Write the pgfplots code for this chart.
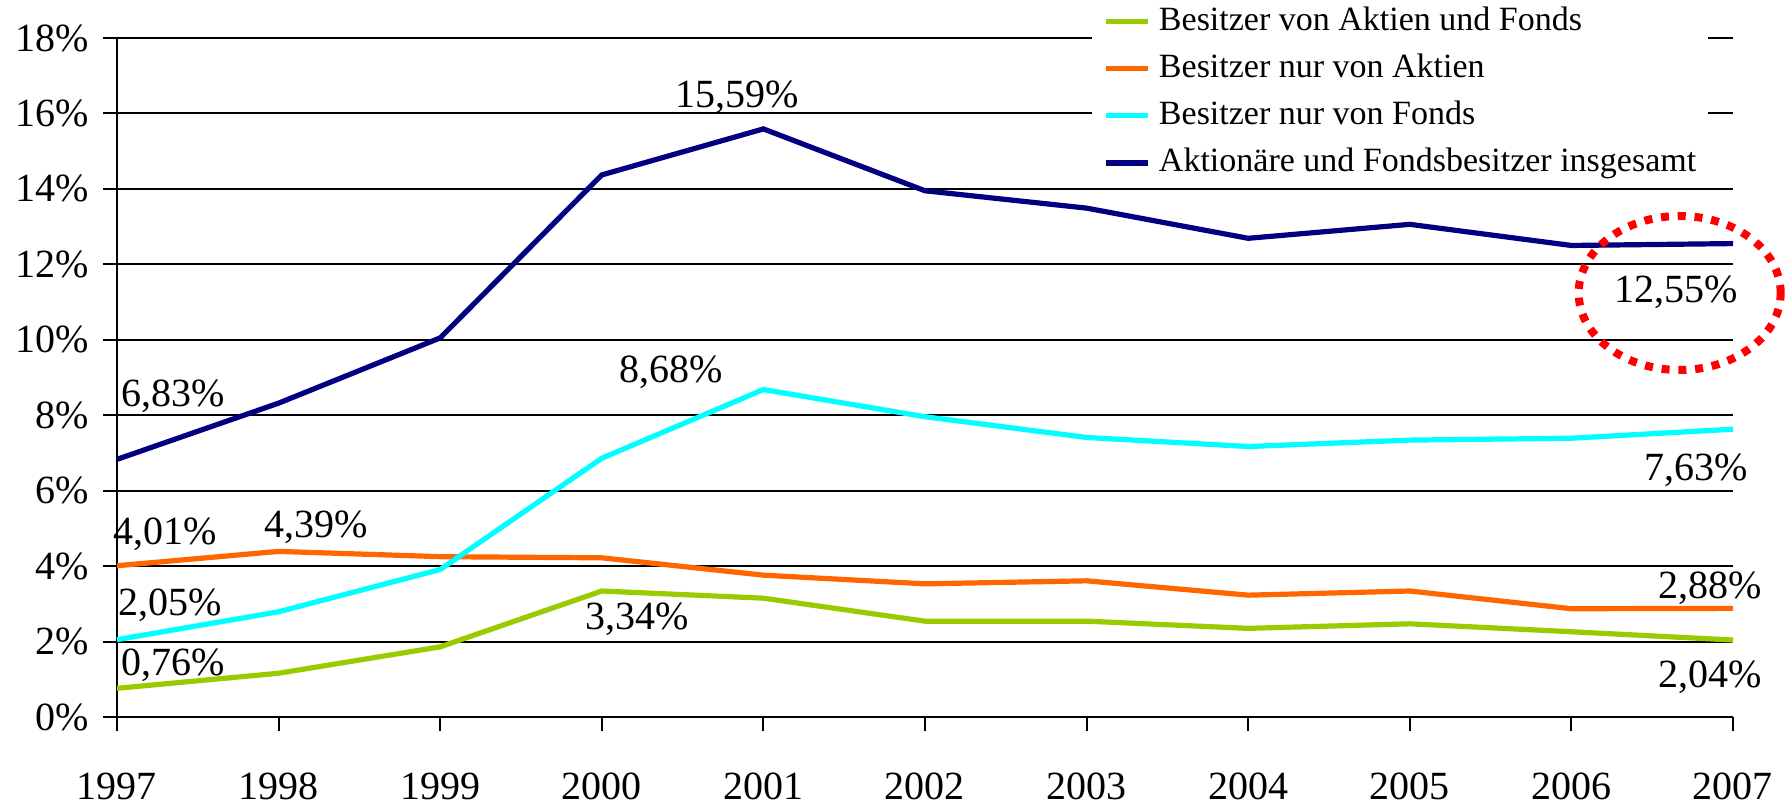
\documentclass[border=0pt]{standalone}
\usepackage{fontspec}
\setmainfont{Liberation Serif}
\usepackage{pgfplots}
\pgfplotsset{compat=1.18}
\definecolor{lgreen}{HTML}{99CC00}
\definecolor{lorange}{HTML}{FF6600}
\definecolor{lcyan}{HTML}{00FFFF}
\definecolor{lnavy}{HTML}{000080}
\definecolor{ringred}{HTML}{FF0000}

\begin{document}
\begin{tikzpicture}
\begin{axis}[
    scale only axis, width=404pt, height=169.75pt,
    xmin=1997, xmax=2007, ymin=0, ymax=18,
    xtick={1997,...,2007}, ytick={0,2,...,18},
    axis x line*=bottom, axis y line*=left,
    axis line style={black, line width=0.5pt, -},
    ymajorgrids, grid style={black, line width=0.5pt},
    tick align=outside, major tick length=3.5pt,
    tick style={black, line width=0.5pt},
    /pgf/number format/assume math mode=true,
    /pgf/number format/1000 sep={},
    tick label style={font=\fontsize{10}{12}\selectfont},
    yticklabel={\pgfmathprintnumber{\tick}\%},
    xticklabel style={inner sep=0pt, yshift=-10.3pt},
    clip=false,
    legend cell align=left,
    legend style={at={(0.6027,1.055)}, anchor=north west, draw=none, fill=white,
        font=\fontsize{8.5}{10}\selectfont, inner xsep=3pt, inner ysep=1pt,
        nodes={inner sep=0pt, text height=6.2pt, text depth=1.8pt},
        row sep=3.8pt, column sep=2pt},
    legend image code/.code={\draw[#1, line width=1.3pt] (0pt,0pt) -- (10.5pt,0pt);},
    every axis plot/.append style={line width=1.3pt},
]
% Besitzer von Aktien und Fonds
\addplot[lgreen] coordinates {
    (1997,0.76) (1998,1.16) (1999,1.86) (2000,3.34) (2001,3.15) (2002,2.54)
    (2003,2.54) (2004,2.35) (2005,2.47) (2006,2.26) (2007,2.04)};
% Besitzer nur von Aktien
\addplot[lorange] coordinates {
    (1997,4.01) (1998,4.39) (1999,4.25) (2000,4.22) (2001,3.76) (2002,3.53)
    (2003,3.61) (2004,3.23) (2005,3.34) (2006,2.87) (2007,2.88)};
% Besitzer nur von Fonds
\addplot[lcyan] coordinates {
    (1997,2.05) (1998,2.79) (1999,3.91) (2000,6.86) (2001,8.68) (2002,7.96)
    (2003,7.41) (2004,7.17) (2005,7.34) (2006,7.39) (2007,7.63)};
% insgesamt
\addplot[lnavy] coordinates {
    (1997,6.83) (1998,8.32) (1999,10.05) (2000,14.37) (2001,15.59) (2002,13.95)
    (2003,13.49) (2004,12.69) (2005,13.06) (2006,12.50) (2007,12.55)};
\legend{Besitzer von Aktien und Fonds, Besitzer nur von Aktien,
    Besitzer nur von Fonds, Aktionäre und Fondsbesitzer insgesamt}

% value labels
\tikzset{vlab/.style={anchor=base, inner sep=0pt, font=\fontsize{10}{12}\selectfont}}
\node[vlab] at (axis cs:1997.35,8.22) {6,83\%};
\node[vlab] at (axis cs:1997.30,4.56) {4,01\%};
\node[vlab] at (axis cs:1998.23,4.77) {4,39\%};
\node[vlab] at (axis cs:1997.33,2.70) {2,05\%};
\node[vlab] at (axis cs:1997.35,1.11) {0,76\%};
\node[vlab] at (axis cs:2000.22,2.31) {3,34\%};
\node[vlab] at (axis cs:2000.43,8.88) {8,68\%};
\node[vlab] at (axis cs:2000.84,16.15) {15,59\%};
\node[vlab] at (axis cs:2006.65,10.98) {12,55\%};
\node[vlab] at (axis cs:2006.77,6.28) {7,63\%};
\node[vlab] at (axis cs:2006.86,3.15) {2,88\%};
\node[vlab] at (axis cs:2006.86,0.77) {2,04\%};

\draw[ringred, line width=2pt, dash pattern=on 2pt off 2.2pt]
    (axis cs:2006.67,11.24) ellipse [x radius=25.25pt, y radius=19.25pt];

\coordinate (ll) at (rel axis cs:0,0);
\coordinate (ur) at (rel axis cs:1,1);
\end{axis}
\path ([shift={(-29.25pt,-21.5pt)}]ll) rectangle ([shift={(13.25pt,9.5pt)}]ur);
\end{tikzpicture}
\end{document}
